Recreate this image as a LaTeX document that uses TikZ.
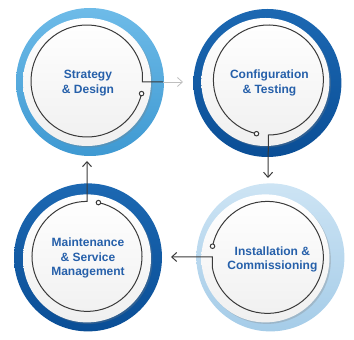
\documentclass[tikz,border=0pt]{standalone}
\usepackage{fontspec}
\setmainfont{Liberation Sans}
\usetikzlibrary{positioning,arrows.meta,calc,shadows,backgrounds}
\definecolor{skyhi}{RGB}{110,187,232}
\definecolor{skylo}{RGB}{62,153,210}
\definecolor{navyhi}{RGB}{28,104,178}
\definecolor{navylo}{RGB}{10,78,150}
\definecolor{palehi}{RGB}{205,228,244}
\definecolor{palelo}{RGB}{165,204,232}
\definecolor{capblue}{RGB}{38,96,170}
\definecolor{wire}{RGB}{58,58,58}
\tikzset{
  >={Straight Barb[length=5pt,width=9pt]},
}

\begin{document}
\begin{tikzpicture}[
  x=1pt,y=1pt,
  ring/.style={circle, inner sep=0pt, minimum size=148pt},
  disc/.style={circle, inner sep=0pt, minimum size=128pt, top color=white, bottom color=black!6,
    drop shadow={shadow xshift=1.5pt, shadow yshift=-1.5pt, opacity=.3}},
  caption/.style={align=center, text=capblue, font=\bfseries\fontsize{12}{14.5}\selectfont},
  loopline/.style={draw=wire, line width=1pt},
  fadeline/.style={draw=black!25, line width=0.8pt},
  dot/.style={circle, draw=wire, fill=white, line width=1pt, inner sep=0pt, minimum size=4.5pt}
]
\useasboundingbox (0,0) rectangle (354,340);

\node[disc] (design) at (87,258) {};
\node[disc, right=50pt of design] (config) {};
\node[disc, below=48pt of config] (install) {};
\node[disc, left=50pt of install] (maint) {};

\begin{scope}[on background layer]
\node[ring, top color=skyhi, bottom color=skylo] (ring1) at ([shift={(3,0)}]design) {};
\node[ring, top color=navyhi, bottom color=navylo] (ring2) at ([shift={(2,-1)}]config) {};
\node[ring, top color=palehi, bottom color=palelo] (ring3) at ([shift={(5,1)}]install) {};
\node[ring, top color=navyhi, bottom color=navylo] (ring4) at ([shift={(1,1)}]maint) {};
\end{scope}

\node[caption] (t-design) at ([shift={(1,-1)}]design) {Strategy\\\& Design};
\node[caption] (t-config) at ([shift={(4,-1)}]config) {Configuration\\\& Testing};
\node[caption] (t-install) at ([shift={(7,-1)}]install) {Installation \&\\Commissioning};
\node[caption] (t-maint) at ([shift={(1,0)}]maint) {Maintenance\\\& Service\\Management};

\coordinate (l1) at ([shift={(0,1)}]design);
\coordinate (l2) at ([shift={(3,2)}]config);
\coordinate (l3) at ([shift={(2,1)}]install);
\coordinate (l4) at ([shift={(0,2)}]maint);

\coordinate (out1) at (163,258);
\coordinate (tip1) at (183,258);
\coordinate (tip2) at (268,162);
\coordinate (tip3) at (171,83);
\coordinate (tip4) at (87,179);

\draw[loopline] ($(l1)+(-13:56)$) arc[start angle=-13, end angle=-352, radius=56] |- (out1);
\draw[fadeline, ->] (out1) -- (tip1);
\draw[loopline, ->] ($(l2)+(257.5:55)$) arc[start angle=257.5, end angle=-90, radius=55] -- (tip2);
\draw[loopline, ->] ($(l3)+(168.5:56)$) arc[start angle=168.5, end angle=-170, radius=56] |- (tip3);
\draw[loopline, ->] ($(l4)+(78:55)$) arc[start angle=78, end angle=-270, radius=55] -- (tip4);

\node[dot] (dot1) at ($(l1)+(-13:56)$) {};
\node[dot] (dot2) at ($(l2)+(257.5:55)$) {};
\node[dot] (dot3) at ($(l3)+(168.5:56)$) {};
\node[dot] (dot4) at ($(l4)+(78:55)$) {};

\end{tikzpicture}
\end{document}
